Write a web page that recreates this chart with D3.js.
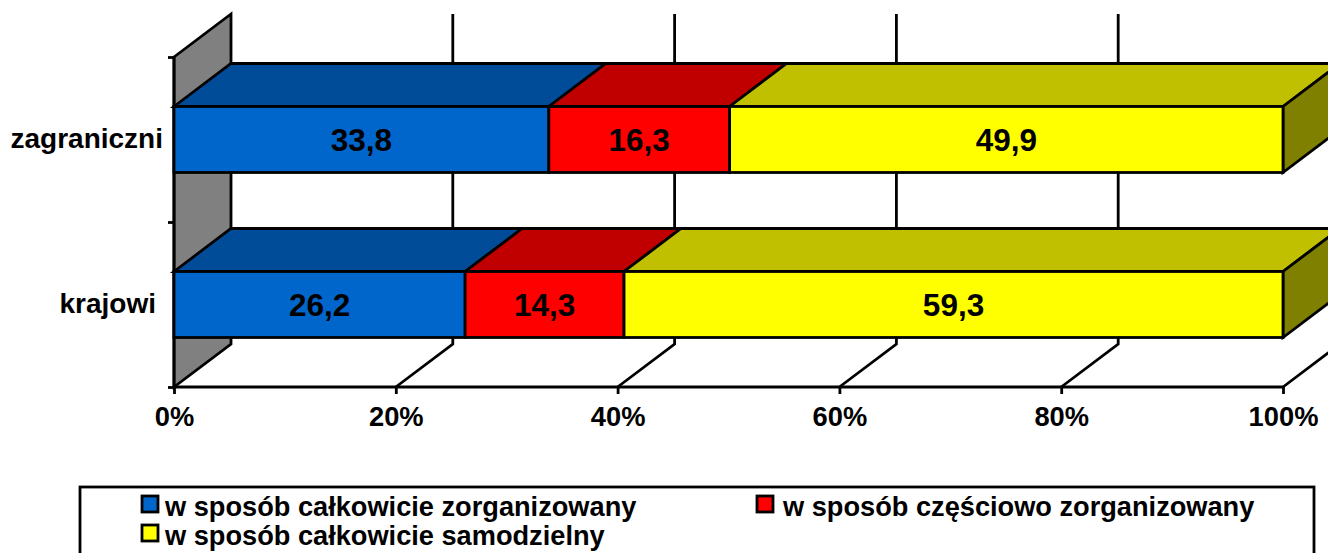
<!DOCTYPE html>
<html>
<head>
<meta charset="utf-8">
<script src="https://cdn.jsdelivr.net/npm/d3@7"></script>
<style>
  html, body { margin: 0; padding: 0; background: #fff; overflow: hidden; }
  text { font-family: "Liberation Sans", Arial, sans-serif; font-weight: bold; fill: #000; }
</style>
</head>
<body>
<div id="chart"></div>
<script>
// chart values
var categories = ["zagraniczni", "krajowi"];
var seriesNames = ["w sposób całkowicie zorganizowany", "w sposób częściowo zorganizowany", "w sposób całkowicie samodzielny"];
var calkowicieZorg = [33.8, 26.2];
var czesciowoZorg = [16.3, 14.3];
var samodzielny = [49.9, 59.3];
var tickValues = [0, 20, 40, 60, 80, 100];

// colours: front, top, side
var front = ["#0066cc", "#ff0000", "#ffff00"];
var top3d = ["#004c99", "#c00000", "#c0c000"];
var side3d = ["#00264c", "#800000", "#808000"];

var width = 1328, height = 553;
var depthX = 57, depthY = 43; // 3d offset of the back wall
var lw = 2.8;

var svg = d3.select("#chart").append("svg")
  .attr("width", width)
  .attr("height", height)
  .style("display", "block");

var x = d3.scaleLinear().domain([0, 100]).range([174, 1283]);
var y = d3.scaleBand().domain(categories).range([57, 387]).paddingInner(0.6).paddingOuter(0.3);

var plotTop = 57, plotBottom = 387;

function poly(g, pts, fill) {
  return g.append("polygon")
    .attr("points", pts.map(function(p) { return p.join(","); }).join(" "))
    .attr("fill", fill)
    .attr("stroke", "#000")
    .attr("stroke-width", lw)
    .attr("stroke-linejoin", "miter");
}

// ------ walls and grid ------
var walls = svg.append("g");
poly(walls, [
  [x(0), plotTop], [x(0) + depthX, plotTop - depthY],
  [x(0) + depthX, plotBottom - depthY], [x(0), plotBottom]
], "#808080");

walls.selectAll(".grid")
  .data(tickValues.slice(1))
  .enter().append("path")
    .attr("class", "grid")
    .attr("fill", "none")
    .attr("stroke", "#000")
    .attr("stroke-width", lw)
    .attr("d", function(d) {
      return "M" + x(d) + "," + plotBottom +
        "L" + (x(d) + depthX) + "," + (plotBottom - depthY) +
        "L" + (x(d) + depthX) + "," + (plotTop - depthY);
    });

// ------ axes ------
var xAxis = svg.append("g")
  .attr("transform", "translate(0," + plotBottom + ")")
  .call(d3.axisBottom(x).tickValues(tickValues).tickSize(7).tickPadding(13)
    .tickFormat(function(d) { return d + "%"; }));
xAxis.selectAll("path, line").attr("stroke", "#000").attr("stroke-width", lw);
xAxis.select(".domain").attr("d", "M" + x(0) + ",0H" + x(100));
xAxis.selectAll("text").style("font-size", "27.3px").attr("fill", "#000");

var bandEdges = d3.scaleLinear().domain([0, categories.length]).range([plotTop, plotBottom]);
var yAxis = svg.append("g")
  .attr("transform", "translate(" + x(0) + ",0)")
  .call(d3.axisLeft(bandEdges).tickValues(d3.range(categories.length + 1)).tickSize(6).tickFormat(""));
yAxis.selectAll("path, line").attr("stroke", "#000").attr("stroke-width", lw);
yAxis.select(".domain").attr("d", "M0," + plotTop + "V" + plotBottom);

// ------ bars ------
var rows = categories.map(function(c, i) {
  return { cat: c, vals: [calkowicieZorg[i], czesciowoZorg[i], samodzielny[i]] };
});

var labelRight = { "zagraniczni": 163, "krajowi": 156 };

rows.forEach(function(row) {
  var total = d3.sum(row.vals);
  var cum = 0;
  var g = svg.append("g");
  var y0 = y(row.cat), y1 = y0 + y.bandwidth();
  var segs = row.vals.map(function(v, i) {
    var s = { i: i, v: v, a: cum / total * 100, b: (cum + v) / total * 100 };
    cum += v;
    return s;
  });
  // top faces first, then the end cap, then fronts
  segs.forEach(function(s) {
    poly(g, [
      [x(s.a), y0], [x(s.a) + depthX, y0 - depthY],
      [x(s.b) + depthX, y0 - depthY], [x(s.b), y0]
    ], top3d[s.i]);
  });
  var last = segs[segs.length - 1];
  poly(g, [
    [x(100), y0], [x(100) + depthX, y0 - depthY],
    [x(100) + depthX, y1 - depthY], [x(100), y1]
  ], side3d[last.i]);
  segs.forEach(function(s) {
    g.append("rect")
      .attr("x", x(s.a))
      .attr("y", y0)
      .attr("width", x(s.b) - x(s.a))
      .attr("height", y.bandwidth())
      .attr("fill", front[s.i])
      .attr("stroke", "#000")
      .attr("stroke-width", lw);
    g.append("text")
      .attr("x", (x(s.a) + x(s.b)) / 2)
      .attr("y", (y0 + y1) / 2 + 11)
      .attr("text-anchor", "middle")
      .style("font-size", "31.5px")
      .text(String(s.v).replace(".", ","));
  });
  svg.append("text")
    .attr("x", labelRight[row.cat])
    .attr("y", (y0 + y1) / 2 + 8)
    .attr("text-anchor", "end")
    .style("font-size", "28px")
    .text(row.cat);
});

// ------ legend ------
var legend = svg.append("g");
legend.append("rect")
  .attr("x", 80).attr("y", 487)
  .attr("width", 1234).attr("height", 90)
  .attr("fill", "#fff")
  .attr("stroke", "#000")
  .attr("stroke-width", lw);

var legendX = [142, 757, 142];
var legendY = [496, 496, 525];
var legendTextX = [165, 783, 165];
seriesNames.forEach(function(name, i) {
  legend.append("rect")
    .attr("x", legendX[i]).attr("y", legendY[i])
    .attr("width", 16).attr("height", 16)
    .attr("fill", front[i])
    .attr("stroke", "#000")
    .attr("stroke-width", lw);
  legend.append("text")
    .attr("x", legendTextX[i])
    .attr("y", legendY[i] + 20)
    .style("font-size", "27.2px")
    .text(name);
});
</script>
</body>
</html>
